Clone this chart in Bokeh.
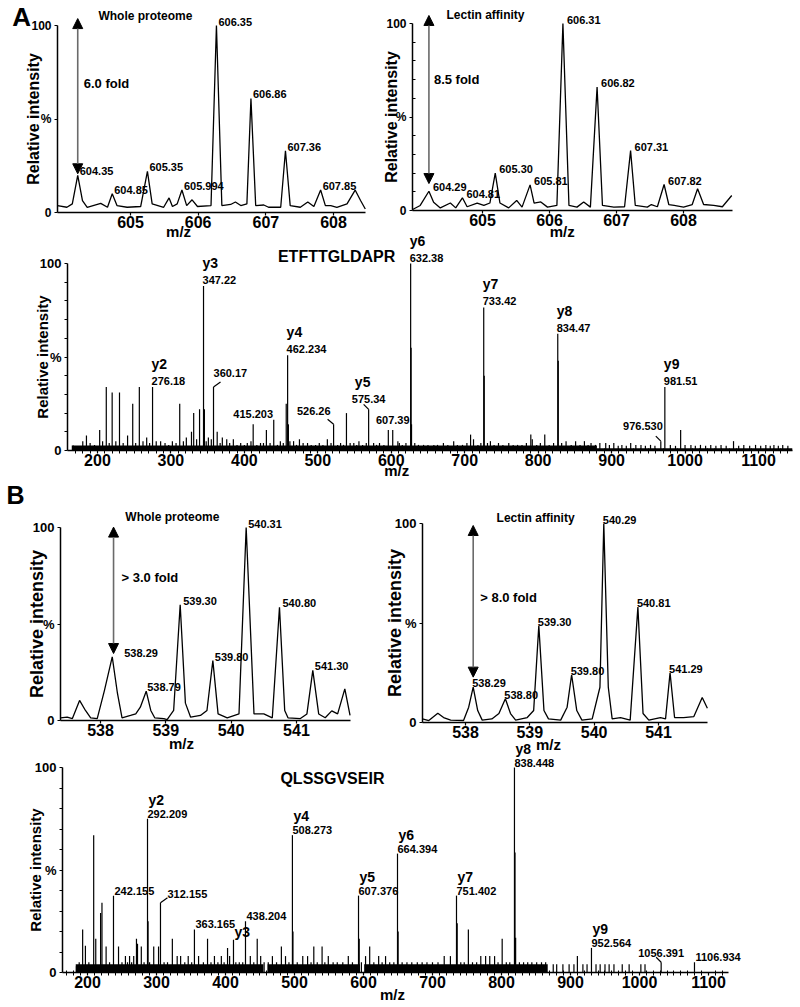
import math
from bokeh.plotting import figure
from bokeh.models import (Range1d, FixedTicker, Label, LabelSet, ColumnDataSource,
                          Arrow, NormalHead, LinearAxis)
from bokeh.embed import file_html
from bokeh.resources import INLINE
from bokeh.core.properties import value

FONT = "Liberation Sans"

# ============================ DATA ============================
# ---- Panel A, MS survey profiles (m/z, relative intensity %) ----
A_whole_profile = [
    (603.92, 3.7), (604.06, 2.8), (604.14, 4.6), (604.22, 19.8), (604.29, 6.4), (604.36, 2.8),
    (604.56, 4.9), (604.66, 2.8), (604.73, 10), (604.80, 3.7), (604.95, 2.8), (605.15, 3.2),
    (605.25, 22), (605.32, 4.6), (605.49, 2.8), (605.57, 7.8), (605.62, 3.2), (605.69, 4.6),
    (605.76, 12), (605.83, 3.7), (605.91, 6.8), (605.99, 3.2), (606.19, 3.7), (606.27, 100),
    (606.35, 3.7), (606.48, 4.3), (606.55, 5.6), (606.63, 3.7), (606.72, 4.6), (606.78, 61),
    (606.85, 3.7), (606.97, 4.0), (607.04, 2.8), (607.22, 2.8), (607.29, 33), (607.36, 3.7),
    (607.51, 2.8), (607.62, 5.6), (607.71, 3.2), (607.81, 12), (607.88, 3.7), (607.96, 3.7),
    (608.05, 2.8), (608.20, 4.6), (608.32, 12), (608.40, 6.4), (608.47, 1.9)]
A_whole_peak_mz = [604.22, 604.73, 605.25, 605.76, 606.27, 606.78, 607.29, 607.81]
A_whole_peak_int = [19.8, 10, 22, 12, 100, 61, 33, 12]
A_whole_peak_lab = ["604.35", "604.85", "605.35", "605.994", "606.35", "606.86", "607.36", "607.85"]
A_whole_fold = ("6.0 fold", 604.22, 20.7, 103.7, 69)   # text, m/z, arrow low, arrow high, text level

A_lectin_profile = [
    (603.95, 0.4), (604.07, 2.7), (604.20, 10.3), (604.27, 4.4), (604.37, 1.4), (604.52, 4.0),
    (604.60, 1.4), (604.70, 6.8), (604.77, 2.0), (604.92, 4.0), (605.02, 2.7), (605.11, 4.0),
    (605.19, 20), (605.26, 4.0), (605.39, 1.4), (605.51, 5.4), (605.59, 1.8), (605.71, 13.7),
    (605.77, 4.0), (605.87, 4.6), (605.97, 1.8), (606.11, 2.7), (606.20, 100), (606.29, 2.7),
    (606.41, 1.8), (606.51, 4.6), (606.61, 1.8), (606.71, 66), (606.79, 2.7), (606.96, 1.8),
    (607.12, 2.0), (607.21, 32), (607.28, 2.7), (607.46, 1.8), (607.52, 3.2), (607.61, 2.0),
    (607.71, 13.9), (607.78, 3.2), (607.86, 2.7), (608.00, 1.8), (608.13, 3.2), (608.21, 11.6),
    (608.30, 3.2), (608.45, 2.7), (608.58, 2.0), (608.72, 8.0)]
A_lectin_peak_mz = [604.20, 604.70, 605.19, 605.71, 606.20, 606.71, 607.21, 607.71]
A_lectin_peak_int = [10.3, 6.8, 20, 13.7, 100, 66, 32, 13.9]
A_lectin_peak_lab = ["604.29", "604.81", "605.30", "605.81", "606.31", "606.82", "607.31", "607.82"]
A_lectin_fold = ("8.5 fold", 604.20, 14.4, 104.3, 70)

# ---- Panel A, MS/MS of ETFTTGLDAPR (m/z, relative intensity %) ----
A_msms_sticks = [
    (167, 2.7), (180, 5), (185, 8), (190, 4), (196, 3), (203, 11), (207, 5), (212, 34), (216, 4),
    (220, 31), (225, 5), (230, 31), (235, 4), (241, 8), (248, 25), (252, 4), (257, 34), (262, 5),
    (267, 7), (271, 4), (275, 34), (280, 5), (286, 5), (292, 4), (297, 3), (302, 5), (307, 4),
    (312, 25), (317, 5), (321, 7), (328, 10), (331, 20), (335, 6), (339, 22), (344.4, 88),
    (345.6, 22), (348, 5), (351, 7), (355, 6), (358, 34), (363, 10), (367, 4), (370, 7), (376, 6),
    (380, 4), (385, 6), (390, 3), (395, 4), (400, 3), (404, 4), (409, 5), (412, 14), (417, 3),
    (422, 4), (426, 4), (430, 11), (435, 4), (440, 16.5), (445, 3), (449, 5), (453, 4), (457, 25),
    (458.9, 51), (460, 14), (462, 5), (467, 5), (471, 3), (475, 6), (480, 4), (486, 4), (491, 3),
    (497, 3), (502, 4), (507, 3), (513, 6), (518, 4), (521.5, 14), (527, 3), (531, 4), (535, 3),
    (539, 20), (544, 4), (549, 4), (553, 3), (556, 5), (561, 3), (566, 4), (569.2, 22), (576, 4),
    (580, 3), (584, 4), (590, 3), (596, 11), (602, 11), (609, 5), (611, 4), (615, 3), (620, 4),
    (626.4, 100), (627, 55), (627.6, 14), (632, 4), (637, 3), (644, 3), (650, 3), (658, 3),
    (663, 3), (671, 4), (677, 3), (685, 5), (690, 3), (697, 3), (703, 4), (708, 8.5), (712, 6),
    (718, 3), (722, 4), (725.9, 76.5), (726.6, 40), (731, 4), (735, 5), (740, 3), (746, 4),
    (752, 3), (760, 4), (766, 3), (772, 3), (778, 3), (784, 4), (790, 8.5), (792, 6), (798, 3),
    (803, 4), (809, 8.5), (815, 3), (821, 4), (826.7, 62.5), (827.4, 48), (832, 4), (838, 5),
    (845, 3), (851, 5), (857, 3), (863, 5), (868, 3), (872, 4), (878, 3), (884, 4), (892, 4),
    (897, 3), (903, 4), (909, 2.5), (914, 3), (920, 2.5), (926, 4), (933, 3), (940, 3),
    (946, 2.5), (953, 3), (959, 2.5), (967, 5), (972.5, 34), (980, 3), (987, 2.5), (994, 11),
    (1000, 3), (1008, 3), (1014, 2.5), (1021, 3), (1028, 2.5), (1035, 3), (1042, 2.5), (1049, 3),
    (1056, 2.5), (1066, 5), (1073, 2.5), (1080, 3), (1088, 2.5), (1096, 3), (1103, 2.5),
    (1110, 3), (1116, 2.5), (1121, 3), (1127, 2.5), (1133, 3), (1140, 2.5)]
A_msms_noise = [(165, 880, 2.7), (880, 1146, 1.2)]          # (from m/z, to m/z, level %)
A_msms_ions = [("y2", "276.18", 275, 34), ("y3", "347.22", 344.4, 88), ("y4", "462.234", 458.9, 51),
               ("y6", "632.38", 626.4, 100), ("y7", "733.42", 725.9, 76.5),
               ("y8", "834.47", 826.7, 62.5), ("y9", "981.51", 972.5, 34)]
A_msms_plain = [("415.203", 412, 14), ("607.39", 602, 11)]
A_msms_leader = [("360.17", 358, 34, ""), ("526.26", 521.5, 14, ""), ("575.34", 569.2, 22, "y5"),
                 ("976.530", 967, 5, "")]
A_peptide = "ETFTTGLDAPR"

# ---- Panel B, MS survey profiles ----
B_whole_profile = [
    (537.39, 1.4), (537.49, 1.7), (537.57, 1.0), (537.68, 10.4), (537.77, 5.2), (537.85, 1.4),
    (537.95, 1.0), (538.06, 15.5), (538.18, 33), (538.26, 14), (538.33, 1.4), (538.46, 2.6),
    (538.54, 3.4), (538.61, 6.9), (538.70, 15.2), (538.77, 5.2), (538.83, 1.4), (538.97, 1.0),
    (539.02, 0.5), (539.12, 5.2), (539.22, 60), (539.30, 9), (539.38, 1.7), (539.53, 2.6),
    (539.63, 5.2), (539.72, 31), (539.80, 3.4), (539.94, 1.4), (540.12, 3.4), (540.23, 100),
    (540.35, 3.4), (540.50, 3.4), (540.63, 1.4), (540.74, 58.7), (540.82, 5.2), (540.87, 1.4),
    (541.06, 1.0), (541.16, 3.4), (541.25, 26), (541.34, 3.4), (541.44, 1.4), (541.54, 5.0),
    (541.63, 3.4), (541.74, 16.4), (541.82, 2.6)]
B_whole_peak_mz = [538.18, 538.70, 539.22, 539.72, 540.23, 540.74, 541.25]
B_whole_peak_int = [33, 15.2, 60, 31, 100, 58.7, 26]
B_whole_peak_lab = ["538.29", "538.79", "539.30", "539.80", "540.31", "540.80", "541.30"]
B_whole_fold = ("> 3.0 fold", 538.20, 34.7, 100.2, 74)

B_lectin_profile = [
    (537.33, 1.8), (537.43, 1.0), (537.57, 4.7), (537.66, 2.5), (537.77, 1.2), (537.97, 1.0),
    (538.05, 7.7), (538.12, 17.8), (538.19, 6.0), (538.26, 1.2), (538.41, 1.8), (538.52, 4.5),
    (538.62, 11.9), (538.70, 4.5), (538.78, 1.2), (538.96, 2.5), (539.06, 6.0), (539.14, 48.7),
    (539.22, 6.0), (539.29, 1.8), (539.48, 1.2), (539.58, 7.7), (539.65, 24), (539.73, 6.0),
    (539.81, 1.2), (539.97, 1.8), (540.09, 17.7), (540.15, 100), (540.22, 17.7), (540.28, 1.8),
    (540.41, 2.5), (540.56, 1.2), (540.68, 58), (540.76, 4.5), (540.85, 1.2), (541.03, 2.5),
    (541.11, 1.8), (541.18, 25), (541.25, 2.5), (541.39, 2.5), (541.55, 3.0), (541.68, 12.6),
    (541.76, 7.2)]
B_lectin_peak_mz = [538.12, 538.62, 539.14, 539.65, 540.15, 540.68, 541.18]
B_lectin_peak_int = [17.8, 11.9, 48.7, 24, 100, 58, 25]
B_lectin_peak_lab = ["538.29", "538.80", "539.30", "539.80", "540.29", "540.81", "541.29"]
B_lectin_fold = ("> 8.0 fold", 538.12, 22.8, 99, 63)

# ---- Panel B, MS/MS of QLSSGVSEIR ----
B_msms_sticks = [
    (184, 3), (188, 5), (193, 21), (197, 13), (202, 5), (209, 67), (212, 16.5), (219, 29),
    (221, 34), (227, 12.7), (232, 5), (237.7, 37.5), (245, 12.7), (250, 5), (255, 8), (258, 5),
    (261, 8), (264, 5), (267, 8), (271, 16.5), (272.5, 14), (278, 12.7), (282, 5), (287, 75),
    (287.8, 25), (290, 5), (296, 12.7), (303, 12.7), (305.8, 34), (311, 5), (316, 5), (323, 16.5),
    (330, 8), (335, 8), (341, 5), (346, 8), (351, 5), (355, 21), (361, 8), (368, 5), (374, 16.5),
    (379, 5), (384, 8), (389, 5), (394, 8), (398, 5), (403, 12), (406, 8), (411.6, 16), (415, 5),
    (420, 5), (425, 5), (429, 25), (436, 8), (441, 5), (446, 16.5), (451, 8), (456, 5), (462, 5),
    (468, 8), (474, 5), (481, 12.7), (487, 8), (492, 5), (497, 67), (497.8, 20), (504, 5),
    (512, 8), (519, 8), (524, 5), (528, 12.7), (533, 5), (540, 12.7), (544, 5), (549, 8),
    (556, 5), (562, 5), (570, 5), (578, 8), (584, 5), (592.8, 37.5), (593.8, 16.5), (597, 5),
    (603, 8), (609, 12.7), (615, 5), (622, 8), (627, 5), (632, 8), (638, 5), (644, 5),
    (649.3, 58), (650.2, 20), (656, 5), (663, 5), (670, 5), (678, 5), (685, 5), (692, 5),
    (700, 5), (708, 5), (717, 8), (726, 8), (734.8, 37.5), (735.8, 24), (741, 5), (746, 5),
    (752, 21), (758, 5), (764, 5), (770, 8), (777, 8), (783, 8), (790, 8), (795, 5), (801, 16.5),
    (807, 5), (812, 5), (818.8, 100), (819.6, 58.5), (820.5, 17), (826, 5), (832, 5), (838, 5),
    (844, 5), (851, 5), (858, 5), (864, 5), (875, 4), (880, 4), (889, 4), (898, 4), (905, 4),
    (910, 8), (918, 4), (924, 4), (930.4, 12), (937, 4), (943, 4), (950, 4), (956, 4), (963, 4),
    (975, 4), (985, 4), (1002, 4), (1008, 4), (1031.4, 5), (1079.7, 5)]
B_msms_noise = [(183, 455, 4), (461, 595, 4), (601, 867, 4)]
B_msms_ions = [("y2", "292.209", 287, 75), ("y4", "508.273", 497, 67), ("y5", "607.376", 592.8, 37.5),
               ("y6", "664.394", 649.3, 58), ("y7", "751.402", 734.8, 37.5),
               ("y8", "838.448", 818.8, 100), ("y9", "952.564", 930.4, 12)]
B_msms_ion_only = [("y3", 411.6, 16)]
B_msms_plain = [("242.155", 237.7, 37.5), ("363.165", 355, 21), ("438.204", 429, 25),
                ("1106.934", 1079.7, 5)]
B_msms_leader = [("312.155", 305.8, 34, ""), ("1056.391", 1031.4, 5, "")]
B_peptide = "QLSSGVSEIR"

Y_TICKS = [0, 50, 100]
Y_TICK_TEXT = {0: "0", 50: "%", 100: "100"}
Y_MINOR = [10, 20, 30, 40, 60, 70, 80, 90]

# ============================ LAYOUT ============================
# One canvas; each panel gets its own pair of ranges.  Geometry: m/z span of the x axis,
# its pixel extent, and the pixel rows of 0 % and 100 % (page pixels).
W, H = 794, 1002
OX, OY = 0, 0
GEOM = {
    "A1": dict(x=(603.921, 608.473), px=(57, 365), py=(212, 25)),
    "A2": dict(x=(603.955, 608.731), px=(412, 732), py=(210, 23)),
    "A3": dict(x=(159.2, 1146.3), px=(67, 792), py=(450, 263)),
    "B1": dict(x=(537.388, 541.827), px=(60, 350), py=(720, 527)),
    "B2": dict(x=(537.332, 541.762), px=(422, 707), py=(722, 523)),
    "B3": dict(x=(163.8, 1129.0), px=(62, 728), py=(972, 767)),
}

p = figure(width=W, height=H, x_range=Range1d(0, W), y_range=Range1d(0, H),
           output_backend="svg", toolbar_location=None, title=None,
           x_axis_location=None, y_axis_location=None, min_border=0,
           min_border_left=0, min_border_right=0, min_border_top=0, min_border_bottom=0,
           background_fill_color="white", border_fill_color="white")
p.grid.visible = False
p.outline_line_color = None

xr_extra, yr_extra, SCALE = {}, {}, {}
for name, g in GEOM.items():
    (x0, x1), (px0, px1), (py0, py100) = g["x"], g["px"], g["py"]
    sx = (px1 - px0) / (x1 - x0)
    sy = (py0 - py100) / 100.0
    xr_extra[name] = Range1d(x0 + (OX - px0) / sx, x0 + (OX + W - px0) / sx)
    yr_extra[name] = Range1d((py0 - (OY + H)) / sy, (py0 - OY) / sy)
    SCALE[name] = (sx, sy)
p.extra_x_ranges = xr_extra
p.extra_y_ranges = yr_extra


def RN(name):
    return dict(x_range_name=name, y_range_name=name)


def add_axes(name, xticks, xminor, xfont, yfont, yminor_in=0, yminor_out=0,
             xminor_in=0, xminor_out=0):
    x0, x1 = GEOM[name]["x"]
    xa = LinearAxis(fixed_location=0, bounds=(x0, x1),
                    ticker=FixedTicker(ticks=xticks, minor_ticks=xminor), **RN(name))
    ya = LinearAxis(fixed_location=x0, bounds=(0, 100),
                    ticker=FixedTicker(ticks=Y_TICKS,
                                       minor_ticks=Y_MINOR if (yminor_in or yminor_out) else []),
                    **RN(name))
    ya.major_label_overrides = Y_TICK_TEXT
    for ax in (xa, ya):
        ax.axis_line_color = "black"
        ax.axis_line_width = 1.5
        ax.major_tick_line_color = "black"
        ax.major_tick_line_width = 1.2
        ax.minor_tick_line_color = "black"
        ax.major_label_text_font = FONT
        ax.major_label_text_font_style = "bold"
        ax.major_label_text_color = "black"
        ax.major_tick_in = 0
    xa.major_tick_out = 3
    xa.major_label_standoff = 0
    xa.major_label_text_font_size = xfont
    xa.minor_tick_in = xminor_in
    xa.minor_tick_out = xminor_out
    ya.major_tick_out = 3
    ya.major_label_standoff = 3
    ya.major_label_text_font_size = yfont
    ya.minor_tick_in = yminor_in
    ya.minor_tick_out = yminor_out
    p.add_layout(xa, "below")
    p.add_layout(ya, "left")


def add_text(name, x, y, text, size, align="center", baseline="middle", xo=0, yo=0, angle=0.0):
    p.add_layout(Label(x=x, y=y, text=text, x_offset=xo, y_offset=yo, angle=angle,
                       text_font=FONT, text_font_size=size, text_font_style="bold",
                       text_color="black", text_align=align, text_baseline=baseline,
                       **RN(name)))


def add_labels(name, xs, ys, texts, size, align, baseline, xo=0, yo=0):
    data = dict(x=list(xs), y=list(ys), t=list(texts))
    kw = {}
    if isinstance(xo, (list, tuple)):
        data["xo"] = list(xo)
        kw["x_offset"] = "xo"
    else:
        kw["x_offset"] = xo
    kw["y_offset"] = yo
    src = ColumnDataSource(data)
    p.add_layout(LabelSet(x="x", y="y", text="t", source=src, text_font=value(FONT),
                          text_font_size=size, text_font_style="bold", text_color="black",
                          text_align=align, text_baseline=baseline, **kw, **RN(name)))


def add_fold(name, fold, text_dx, size):
    text, x, lo, hi, ty = fold
    head = dict(size=10, fill_color="black", line_color="black", line_width=1)
    p.add_layout(Arrow(x_start=x, y_start=lo, x_end=x, y_end=hi,
                       start=NormalHead(**head), end=NormalHead(**head),
                       line_color="#6a6a6a", line_width=1.6, **RN(name)))
    add_text(name, x, ty, text, size, align="left", baseline="middle", xo=text_dx)


def y_label(name, dx, size):
    add_text(name, GEOM[name]["x"][0], 50, "Relative intensity", size, "center", "middle",
             xo=dx, angle=math.pi / 2)


def profile_panel(name, xticks, profile, pk_mz, pk_int, pk_lab, pk_baseline, pk_dx, fold,
                  fold_dx, title, title_xy, mz_xy, ylab_dx, ylab_size, yfont, yminor_in=0):
    add_axes(name, xticks, [], "16px", yfont, yminor_in=yminor_in)
    p.line([m for m, _ in profile], [v for _, v in profile], line_color="black",
           line_width=1.3, **RN(name))
    add_labels(name, pk_mz, pk_int, pk_lab, "11px", "left", pk_baseline, xo=pk_dx)
    add_fold(name, fold, fold_dx, "13px")
    add_text(name, title_xy[0], title_xy[1], title, "12px")
    add_text(name, mz_xy[0], mz_xy[1], "m/z", "15px")
    y_label(name, ylab_dx, ylab_size)


def msms_panel(name, sticks, noise, peptide, pep_xy, mz_xy, ylab_dx, ylab_size, yfont):
    x0, x1 = GEOM[name]["x"]
    majors = list(range(200, 1101, 100))
    minors = [m for m in range(170, int(x1), 10) if m % 100]
    add_axes(name, majors, minors, "16px", yfont, yminor_out=3, xminor_in=2, xminor_out=3)
    p.quad(left=[a for a, _, _ in noise], right=[b for _, b, _ in noise], bottom=0,
           top=[c for _, _, c in noise], fill_color="black", line_color=None, **RN(name))
    mz = [m for m, _ in sticks]
    it = [v for _, v in sticks]
    p.segment(x0=mz, y0=[0] * len(mz), x1=mz, y1=it, line_color="black", line_width=1.2,
              **RN(name))
    add_text(name, pep_xy[0], pep_xy[1], peptide, "16px")
    add_text(name, mz_xy[0], mz_xy[1], "m/z", "15px")
    y_label(name, ylab_dx, ylab_size)


def add_leaders(name, leaders, styles, ion_size="14px"):
    sx, sy = SCALE[name]
    for (txt, mz, h, ion), (ddx, ddy, align, lxo, lyo) in zip(leaders, styles):
        p.segment(x0=[mz], y0=[h], x1=[mz + ddx / sx], y1=[h + ddy / sy],
                  line_color="black", line_width=1.2, **RN(name))
        add_text(name, mz, h, txt, "11px", align=align, baseline="bottom", xo=lxo, yo=lyo)
        if ion:
            add_text(name, mz, h, ion, ion_size, align=align, baseline="bottom", xo=lxo - 6,
                     yo=lyo + 13)


# ============================ PANEL A ============================
profile_panel("A1", [605, 606, 607, 608], A_whole_profile, A_whole_peak_mz, A_whole_peak_int,
              A_whole_peak_lab, "bottom", 2, A_whole_fold, 6, "Whole proteome", (605.22, 105.3),
              (605.71, -10.2), -24, "16px", "12px")
add_text("A1", 603.39, 104.5, "A", "26px")

profile_panel("A2", [605, 606, 607, 608], A_lectin_profile, A_lectin_peak_mz, A_lectin_peak_int,
              A_lectin_peak_lab, "alphabetic", 4, A_lectin_fold, 5, "Lectin affinity",
              (605.045, 104.8), (606.19, -11.2), -21, "16px", "12px", yminor_in=3)

msms_panel("A3", A_msms_sticks, A_msms_noise, A_peptide, (525.6, 104), (607.4, -10.7), -25.5,
           "15px", "13px")
add_labels("A3", [r[2] for r in A_msms_ions], [r[3] for r in A_msms_ions],
           [r[1] for r in A_msms_ions], "11px", "left", "bottom", xo=-1, yo=2)
add_labels("A3", [r[2] for r in A_msms_ions], [r[3] for r in A_msms_ions],
           [r[0] for r in A_msms_ions], "14px", "left", "bottom", xo=-1, yo=15)
add_labels("A3", [r[1] for r in A_msms_plain], [r[2] for r in A_msms_plain],
           [r[0] for r in A_msms_plain], "11px", "center", "bottom", xo=0, yo=6)
add_leaders("A3", A_msms_leader,
            [(7, 5, "left", 0, 10), (-6, 5, "right", -3, 9), (-5, 5, "center", 0, 6),
             (-5, 5, "right", 2, 11)])

# ============================ PANEL B ============================
profile_panel("B1", [538, 539, 540, 541], B_whole_profile, B_whole_peak_mz, B_whole_peak_int,
              B_whole_peak_lab, "alphabetic", [12, 1, 3, 2, 2, 3, 2], B_whole_fold, 8,
              "Whole proteome", (539.1, 105.2), (539.24, -11.9), -24, "18px", "13px")
add_text("B1", 536.70, 116.6, "B", "25px")

profile_panel("B2", [538, 539, 540, 541], B_lectin_profile, B_lectin_peak_mz, B_lectin_peak_int,
              B_lectin_peak_lab, "alphabetic", -1, B_lectin_fold, 7, "Lectin affinity",
              (539.09, 103), (539.29, -11), -28, "18px", "13px")

msms_panel("B3", B_msms_sticks, B_msms_noise, B_peptide, (555, 94.6), (642, -10.5), -27.5,
           "15px", "13px")
add_labels("B3", [r[2] for r in B_msms_ions], [r[3] for r in B_msms_ions],
           [r[1] for r in B_msms_ions], "11px", "left", "alphabetic", xo=0, yo=1)
add_labels("B3", [r[2] for r in B_msms_ions], [r[3] for r in B_msms_ions],
           [r[0] for r in B_msms_ions], "14px", "left", "alphabetic", xo=1, yo=14)
add_labels("B3", [r[1] for r in B_msms_ion_only], [r[2] for r in B_msms_ion_only],
           [r[0] for r in B_msms_ion_only], "14px", "left", "alphabetic", xo=1, yo=3)
add_labels("B3", [r[1] for r in B_msms_plain], [r[2] for r in B_msms_plain],
           [r[0] for r in B_msms_plain], "11px", "left", "alphabetic", xo=1, yo=1)
add_leaders("B3", B_msms_leader, [(7, 5, "left", 7, 5), (-5, 5, "center", 0, 5)])

open("out.html", "w").write(file_html(p, INLINE))
